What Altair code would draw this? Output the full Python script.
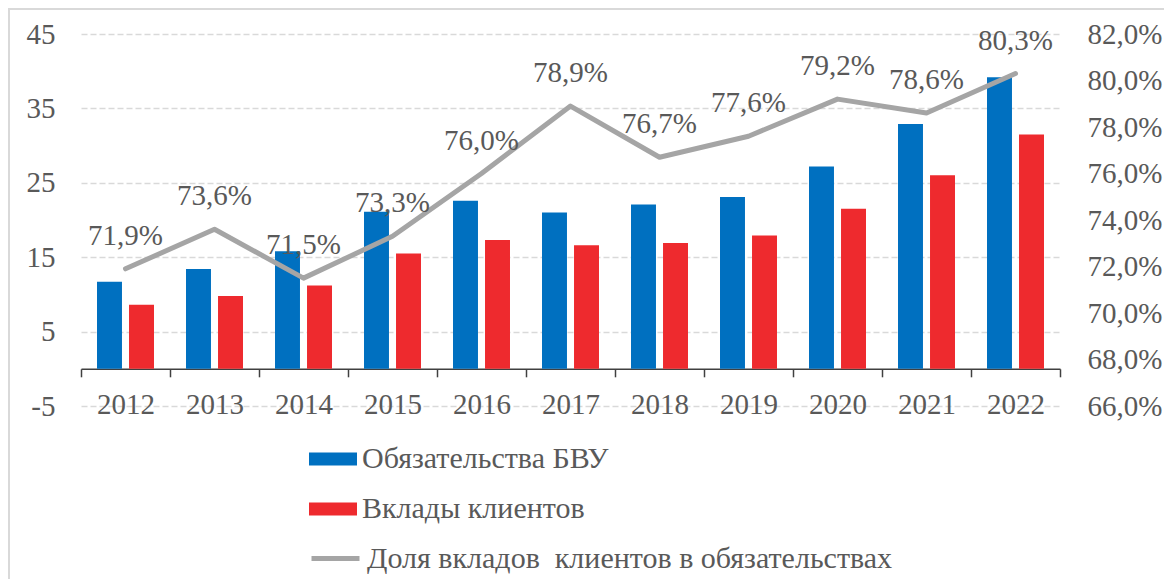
import altair as alt
import pandas as pd

years = ["2012", "2013", "2014", "2015", "2016", "2017", "2018", "2019", "2020", "2021", "2022"]
liabilities = [11.7, 13.4, 15.8, 21.1, 22.6, 21.0, 22.1, 23.1, 27.2, 32.9, 39.2]
deposits = [8.6, 9.8, 11.2, 15.5, 17.3, 16.6, 16.9, 17.9, 21.5, 26.0, 31.5]
share = [71.9, 73.6, 71.5, 73.3, 76.0, 78.9, 76.7, 77.6, 79.2, 78.6, 80.3]
bar_series = ["Обязательства БВУ", "Вклады клиентов"]
line_series = "Доля вкладов\u00a0 клиентов в обязательствах"
left_ticks = [-5, 5, 15, 25, 35, 45]
right_ticks = [66, 68, 70, 72, 74, 76, 78, 80, 82]

FONT = "Liberation Serif"
GREY = "#595959"
FS = 29
LFS = 30

rows = []
for y, a, b in zip(years, liabilities, deposits):
    rows.append({"year": y, "series": bar_series[0], "value": a})
    rows.append({"year": y, "series": bar_series[1], "value": b})
bars_df = pd.DataFrame(rows)

line_df = pd.DataFrame({
    "year": years,
    "share": share,
    "s": [line_series] * len(years),
    "lbl": [f"{v:.1f}%".replace(".", ",") for v in share],
})

x_enc = alt.X(
    "year:N",
    sort=years,
    scale=alt.Scale(paddingInner=0, paddingOuter=0),
    axis=alt.Axis(
        title=None, labelAngle=0, offset=-37.2, tickBand="extent",
        domainColor="#404040", domainWidth=1.5, tickColor="#404040", tickWidth=1.5,
        tickSize=8, labelPadding=14, labelFont=FONT, labelFontSize=FS,
        labelColor=GREY, grid=False,
    ),
)

bars = alt.Chart(bars_df).mark_bar().encode(
    x=x_enc,
    xOffset=alt.XOffset("series:N", sort=bar_series,
                        scale=alt.Scale(domain=bar_series, paddingInner=0.22, paddingOuter=0.5)),
    y=alt.Y(
        "value:Q", stack=None,
        scale=alt.Scale(domain=[-5, 45], nice=False, zero=False),
        axis=alt.Axis(
            values=left_ticks, title=None, orient="left", domain=False, ticks=False,
            tickSize=0, labelPadding=26, grid=True, gridDash=[6, 3], gridColor="#D9D9D9",
            gridWidth=1.3, labelFont=FONT, labelFontSize=FS, labelColor=GREY,
            labelExpr="'' + datum.value",
        ),
    ),
    color=alt.Color(
        "series:N",
        sort=bar_series,
        scale=alt.Scale(domain=bar_series, range=["#0070C0", "#EE2A2E"]),
        legend=alt.Legend(
            title=None, orient="none", legendX=228, legendY=401, direction="vertical",
            symbolType="M-1,-0.27H1V0.27H-1Z", symbolSize=2304, symbolStrokeWidth=0,
            labelFont=FONT, labelFontSize=LFS, labelColor=GREY, labelLimit=900,
            labelOffset=5, rowPadding=11, padding=0,
        ),
    ),
)

y_line = alt.Y(
    "share:Q",
    scale=alt.Scale(domain=[66, 82], nice=False, zero=False),
    axis=alt.Axis(
        values=right_ticks, title=None, orient="right", domain=False, ticks=False,
        tickSize=0, labelPadding=27, grid=False, labelFont=FONT, labelFontSize=FS,
        labelColor=GREY,
        labelExpr="replace(format(datum.value, '.1f'), '.', ',') + '%'",
    ),
)

line = alt.Chart(line_df).mark_line(strokeWidth=5, strokeCap="round", strokeJoin="round").encode(
    x=x_enc,
    y=y_line,
    stroke=alt.Stroke(
        "s:N",
        scale=alt.Scale(domain=[line_series], range=["#A5A5A5"]),
        legend=alt.Legend(
            title=None, orient="none", legendX=228, legendY=498,
            symbolType="stroke", symbolSize=2304, symbolStrokeWidth=5,
            labelFont=FONT, labelFontSize=LFS, labelColor=GREY, labelLimit=900,
            labelOffset=5, padding=0,
        ),
    ),
)

labels = alt.Chart(line_df).mark_text(dy=-33, font=FONT, fontSize=FS, color=GREY).encode(
    x=x_enc,
    y=y_line,
    text="lbl:N",
)

frame_top = alt.Chart(alt.Data(values=[{}])).mark_rule(color="#D9D9D9", strokeWidth=2).encode(
    x=alt.value(-73), x2=alt.value(1090), y=alt.value(-25)
)
frame_left = alt.Chart(alt.Data(values=[{}])).mark_rule(color="#D9D9D9", strokeWidth=2).encode(
    x=alt.value(-72), y=alt.value(-26), y2=alt.value(545)
)

chart = alt.layer(
    bars, alt.layer(line, labels), frame_top, frame_left
).resolve_scale(y="independent").properties(
    width=979,
    height=372,
    autosize=alt.AutoSizeParams(type="none"),
    padding={"left": 73, "top": 26, "right": 104, "bottom": 173},
).configure_view(stroke=None)

chart.save("out.html", embed_options={"renderer": "svg", "actions": False})
